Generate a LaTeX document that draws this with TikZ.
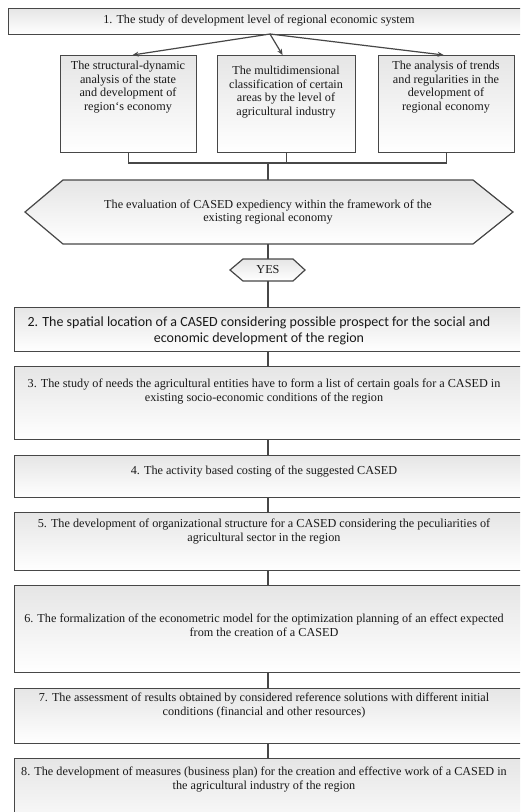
\documentclass[tikz,border=0pt]{standalone}
\usepackage{fontspec}
\setmainfont{Liberation Serif}
\newfontfamily\calib{Carlito}
\usetikzlibrary{arrows.meta}
\begin{document}
\begin{tikzpicture}[x=1pt,y=-1pt,
  shp/.style={draw=black!72, line width=1.2pt, top color=black!10, bottom color=white},
  box/.style={shp, inner sep=0pt, anchor=north west},
  txt/.style={font=\fontsize{12.2}{13.6}\selectfont, align=center, inner sep=0pt, text=black!90},
  conn/.style={draw=black!72, line width=1.2pt},
  arr/.style={conn, -{Stealth[length=6pt,width=5pt]}},
]
\useasboundingbox (0,0) rectangle (520,812);
\clip (0,0) rectangle (520,812);
\fill[white] (0,0) rectangle (520,812);
\coordinate (ax) at (268,0);

% top box and three sub-boxes
\node[box, minimum width=520, minimum height=26] (b1) at (8,8) {};
\node[txt] (t1) at (259,21) {1. The study of development level of regional economic system};

\node[box, minimum width=136, minimum height=97] (L) at (60,55) {};
\node[box, minimum width=138, minimum height=97] (M) at (217,55) {};
\node[box, minimum width=136, minimum height=97] (R) at (378,55) {};
\node[txt, anchor=north] (tL) at (128,61) {The structural-dynamic\\analysis of the state\\and development of\\region`s economy};
\node[txt, anchor=north] (tM) at (286,66) {The multidimensional\\classification of certain\\areas by the level of\\agricultural industry};
\node[txt, anchor=north] (tR) at (446,61) {The analysis of trends\\and regularities in the\\development of\\regional economy};

\coordinate (s1) at (270,34);
\draw[arr] (s1) -- ([xshift=4pt]L.north);
\draw[arr] (s1) -- ([xshift=-4pt]M.north);
\draw[arr] (s1) -- ([xshift=-3pt]R.north);

% bracket
\coordinate (j) at (268,163);
\draw[conn] (L.south) -- (L.south |- j) -- (R.south |- j) -- (R.south);
\draw[conn] (M.south) -- (M.south |- j);

% evaluation hexagon
\path[shp] (25,212) -- (63,180) -- (473,180) -- (513,212) -- (473,244) -- (63,244) -- cycle;
\node[txt, minimum height=64] (hex) at (268,212) {The evaluation of CASED expediency within the framework of the\\existing regional economy};
\draw[conn] (j) -- (hex.north);

% YES
\path[shp] (230,270) -- (243,259) -- (293,259) -- (305,270) -- (293,281) -- (243,281) -- cycle;
\node[txt, minimum height=22] (yes) at (268,270) {YES};
\draw[conn] (hex.south) -- (yes.north);

% step boxes
\node[box, minimum width=514, minimum height=44] (b2) at (14,307) {};
\node[box, minimum width=514, minimum height=73] (b3) at (14,366) {};
\node[box, minimum width=514, minimum height=42] (b4) at (14,455) {};
\node[box, minimum width=514, minimum height=58] (b5) at (14,512) {};
\node[box, minimum width=514, minimum height=87] (b6) at (14,585) {};
\node[box, minimum width=514, minimum height=55] (b7) at (14,688) {};
\node[box, minimum width=514, minimum height=80] (b8) at (14,758) {};

\node[txt, font=\calib\fontsize{14}{16.5}\selectfont] (t2) at (259,331) {2. The spatial location of a CASED considering possible prospect for the social and\\economic development of the region};
\node[txt, anchor=north] (t3) at (264,379) {3. The study of needs the agricultural entities have to form a list of certain goals for a CASED in\\existing socio-economic conditions of the region};
\node[txt] (t4) at (264,472) {4. The activity based costing of the suggested CASED};
\node[txt, anchor=north] (t5) at (264,519) {5. The development of organizational structure for a CASED considering the peculiarities of\\agricultural sector in the region};
\node[txt, anchor=north] (t6) at (264,614) {6. The formalization of the econometric model for the optimization planning of an effect expected\\from the creation of a CASED};
\node[txt, anchor=north] (t7) at (264,693) {7. The assessment of results obtained by considered reference solutions with different initial\\conditions (financial and other resources)};
\node[txt, anchor=north] (t8) at (264,767) {8. The development of measures (business plan) for the creation and effective work of a CASED in\\the agricultural industry of the region};

\draw[conn] (yes.south) -- (b2.north -| yes.south);
\draw[conn] (b2.south -| ax) -- (b3.north -| ax);
\draw[conn] (b3.south -| ax) -- (b4.north -| ax);
\draw[conn] (b4.south -| ax) -- (b5.north -| ax);
\draw[conn] (b5.south -| ax) -- (b6.north -| ax);
\draw[conn] (b6.south -| ax) -- (b7.north -| ax);
\draw[conn] (b7.south -| ax) -- (b8.north -| ax);
\end{tikzpicture}
\end{document}
